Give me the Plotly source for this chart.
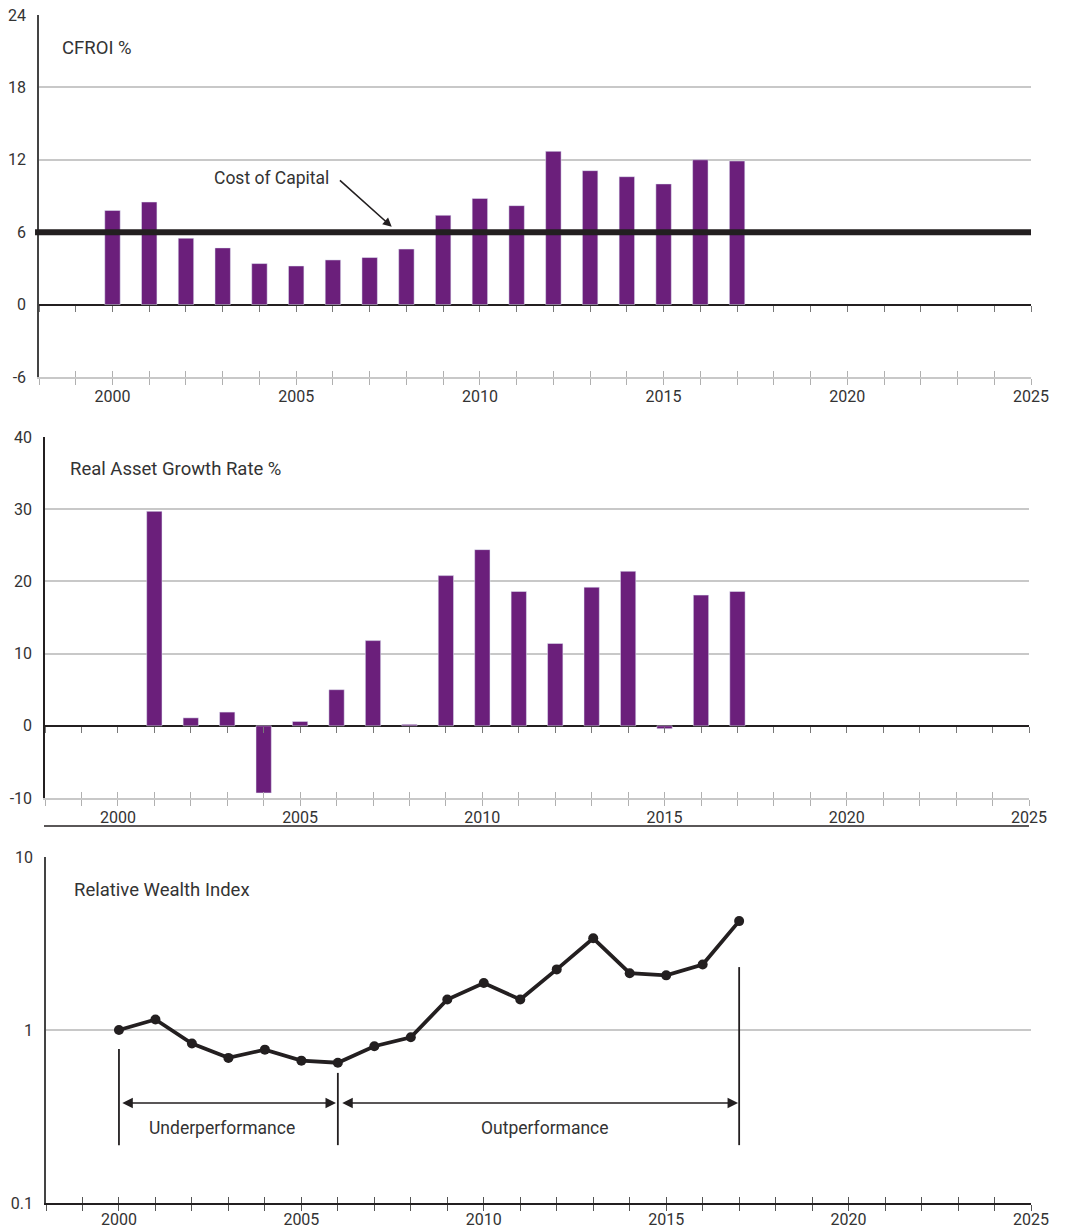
import math
import plotly.graph_objects as go

# ---------------- data ----------------
years = list(range(2000, 2018))
cfroi = [7.8, 8.5, 5.5, 4.7, 3.4, 3.2, 3.7, 3.9, 4.6, 7.4, 8.8, 8.2,
         12.7, 11.1, 10.6, 10.0, 12.0, 11.9]
growth = [None, 29.7, 1.1, 1.9, -9.3, 0.6, 5.0, 11.8, 0.2, 20.8, 24.4, 18.6,
          11.4, 19.2, 21.4, -0.4, 18.1, 18.6]
rwi = [1.0, 1.15, 0.835, 0.69, 0.77, 0.665, 0.647, 0.806, 0.908, 1.5, 1.87, 1.5,
       2.24, 3.39, 2.13, 2.07, 2.39, 4.26]
cost_of_capital = 6

cfroi_ticks = [-6, 0, 6, 12, 18, 24]
cfroi_tick_text = ["-6", "0", "6", "12", "18", "24"]
growth_ticks = [-10, 0, 10, 20, 30, 40]
growth_tick_text = ["-10", "0", "10", "20", "30", "40"]
rwi_ticks = [0.1, 1, 10]
rwi_tick_text = ["0.1", "1", "10"]

x_range = [1998, 2025]
under_period = [2000, 2006]
out_period = [2006, 2017]

# ---------------- styling ----------------
W, H = 1068, 1230
PURPLE = "#6b1f7b"
INK = "#231f20"
GRID = "#c8c8c8"
TXT = "#333333"
FONT = "Roboto"

def px_x(a, b):
    return [a / W, b / W]

def px_y(top, bottom):
    return [1 - bottom / H, 1 - top / H]

dom = {
    1: (px_x(39, 1031), px_y(15, 377)),
    2: (px_x(45, 1029), px_y(437, 798)),
    3: (px_x(46, 1031), px_y(857, 1203)),
}

fig = go.Figure()

fig.add_trace(go.Bar(x=years, y=cfroi, marker_color=PURPLE, xaxis="x", yaxis="y",
                     showlegend=False))
fig.add_trace(go.Bar(x=years, y=growth, marker_color=PURPLE, xaxis="x2", yaxis="y2",
                     showlegend=False))
fig.add_trace(go.Scatter(x=years, y=rwi, mode="lines+markers", xaxis="x3", yaxis="y3",
                         line=dict(color=INK, width=3.8),
                         marker=dict(color=INK, size=10), showlegend=False))

# empty traces to realise overlay axes (tick decoration only)
for xa, ya in [("x4", "y"), ("x5", "y"), ("x6", "y2"), ("x7", "y2"), ("x8", "y3")]:
    fig.add_trace(go.Scatter(x=[], y=[], xaxis=xa, yaxis=ya, showlegend=False,
                             hoverinfo="skip"))

tickfont = dict(family=FONT, size=16, color=TXT)

def xbase(i, linecolor, tickcolor, standoff=-2):
    return dict(domain=dom[i][0], anchor="y" if i == 1 else f"y{i}", range=x_range,
                automargin=False,
                tickmode="linear", tick0=2000, dtick=5, ticks="outside", ticklen=6,
                tickcolor=tickcolor, tickwidth=1, showline=True, linecolor=linecolor,
                linewidth=1.5, showgrid=False, zeroline=False, tickfont=tickfont,
                ticklabelstandoff=standoff,
                minor=dict(dtick=1, tick0=2000, ticks="outside", ticklen=6,
                           tickcolor=tickcolor, tickwidth=1, showgrid=False))

def xoverlay(over, anchor, ticks, tickcolor, position=None):
    d = dict(overlaying=over, range=x_range, tickmode="linear", tick0=2000, dtick=5,
             automargin=False,
             ticks=ticks, ticklen=6, tickcolor=tickcolor, tickwidth=1,
             showticklabels=False, showline=False, showgrid=False, zeroline=False,
             minor=dict(dtick=1, tick0=2000, ticks=ticks, ticklen=6,
                        tickcolor=tickcolor, tickwidth=1, showgrid=False))
    if position is None:
        d["anchor"] = anchor
    else:
        d["anchor"] = "free"
        d["position"] = position
    return d

def ybase(i, rng, tv, tt, linecolor, log=False, zero=False):
    d = dict(domain=dom[i][1], anchor="x" if i == 1 else f"x{i}", range=rng,
             automargin=False,
             tickmode="array", tickvals=tv, ticktext=tt, ticks="", ticklabelstandoff=8,
             showgrid=True, gridcolor=GRID, gridwidth=1.5, showline=True,
             linecolor=linecolor, linewidth=1.5, tickfont=tickfont,
             zeroline=zero, zerolinecolor=INK, zerolinewidth=2.2)
    if log:
        d["type"] = "log"
    return d

def zero_pos(i, lo, hi):
    y0, y1 = dom[i][1]
    return y0 + (0 - lo) / (hi - lo) * (y1 - y0)

c_lo, c_hi = cfroi_ticks[0], cfroi_ticks[-1]
g_lo, g_hi = growth_ticks[0], growth_ticks[-1]

fig.update_layout(
    width=W, height=H, margin=dict(l=0, r=0, t=0, b=0, autoexpand=False),
    paper_bgcolor="white", plot_bgcolor="white", bargap=0.58,
    font=dict(family=FONT, color=TXT),
    xaxis=xbase(1, GRID, "#b0b0b0"),
    yaxis=ybase(1, [c_lo, c_hi], cfroi_ticks, cfroi_tick_text, "#444444", zero=True),
    xaxis2=xbase(2, GRID, "#b0b0b0"),
    yaxis2=ybase(2, [g_lo, g_hi], growth_ticks, growth_tick_text, INK, zero=True),
    xaxis3=xbase(3, INK, "#555555", standoff=-5),
    yaxis3=ybase(3, [math.log10(rwi_ticks[0]), math.log10(rwi_ticks[-1])], rwi_ticks,
                 rwi_tick_text, "#444444", log=True),
    xaxis4=xoverlay("x", "y", "inside", "#b0b0b0"),
    xaxis5=xoverlay("x", "y", "outside", "#777777", zero_pos(1, c_lo, c_hi)),
    xaxis6=xoverlay("x2", "y2", "inside", "#b0b0b0"),
    xaxis7=xoverlay("x2", "y2", "outside", "#777777", zero_pos(2, g_lo, g_hi)),
    xaxis8=xoverlay("x3", "y3", "inside", "#555555"),
)

# cost of capital line
fig.add_shape(type="line", xref="x domain", yref="y", x0=-0.004, x1=1.0,
              y0=cost_of_capital, y1=cost_of_capital,
              line=dict(color=INK, width=6), layer="above")

# separator line under middle chart
fig.add_shape(type="line", xref="paper", yref="paper", x0=44 / W, x1=1029 / W,
              y0=1 - 826 / H, y1=1 - 826 / H, line=dict(color=INK, width=1.5))

# panel titles
for txt, xp, yp in [("CFROI %", 60, 48), ("Real Asset Growth Rate %", 68, 469),
                    ("Relative Wealth Index", 72, 890)]:
    fig.add_annotation(text=txt, xref="paper", yref="paper", x=xp / W, y=1 - yp / H,
                       xanchor="left", yanchor="middle", showarrow=False,
                       font=dict(family=FONT, size=18.5, color=TXT))

# Cost of Capital annotation
fig.add_annotation(text="Cost of Capital", xref="x", yref="y", x=2005.95, y=10.5,
                   xanchor="right", yanchor="middle", showarrow=False,
                   font=dict(family=FONT, size=17.5, color=TXT))
fig.add_annotation(text="", xref="x", yref="y", x=2007.6, y=6.45,
                   axref="x", ayref="y", ax=2006.15, ay=10.4, showarrow=True,
                   arrowhead=2, arrowsize=1.1, arrowwidth=1.6, arrowcolor=INK,
                   standoff=0, startstandoff=0)

# performance brackets (log axis: shapes use data values, annotations log10)
lg = math.log10
arrow_y = 0.378
for xv, top in [(under_period[0], 0.776), (under_period[1], 0.565), (out_period[1], 2.31)]:
    fig.add_shape(type="line", xref="x3", yref="y3", x0=xv, x1=xv, y0=0.216, y1=top,
                  line=dict(color=INK, width=1.8))

for a, b in [(under_period[0] + 0.05, under_period[1] - 0.05),
             (out_period[0] + 0.08, out_period[1] - 0.03)]:
    fig.add_annotation(text="", xref="x3", yref="y3", x=b, y=lg(arrow_y),
                       axref="x3", ayref="y3", ax=a, ay=lg(arrow_y), showarrow=True,
                       arrowhead=2, arrowside="end+start", arrowsize=1.4,
                       arrowwidth=1.5, arrowcolor=INK, standoff=0, startstandoff=0)

fig.add_annotation(text="Underperformance", xref="x3", yref="y3", x=2002.83,
                   y=lg(0.271), showarrow=False, font=dict(family=FONT, size=17.5, color=TXT))
fig.add_annotation(text="Outperformance", xref="x3", yref="y3", x=2011.69,
                   y=lg(0.271), showarrow=False, font=dict(family=FONT, size=17.5, color=TXT))

fig.write_html(
    "out.html",
    config={"displayModeBar": False},
    post_script="document.body.style.margin='0';document.body.style.overflow='hidden';",
)
